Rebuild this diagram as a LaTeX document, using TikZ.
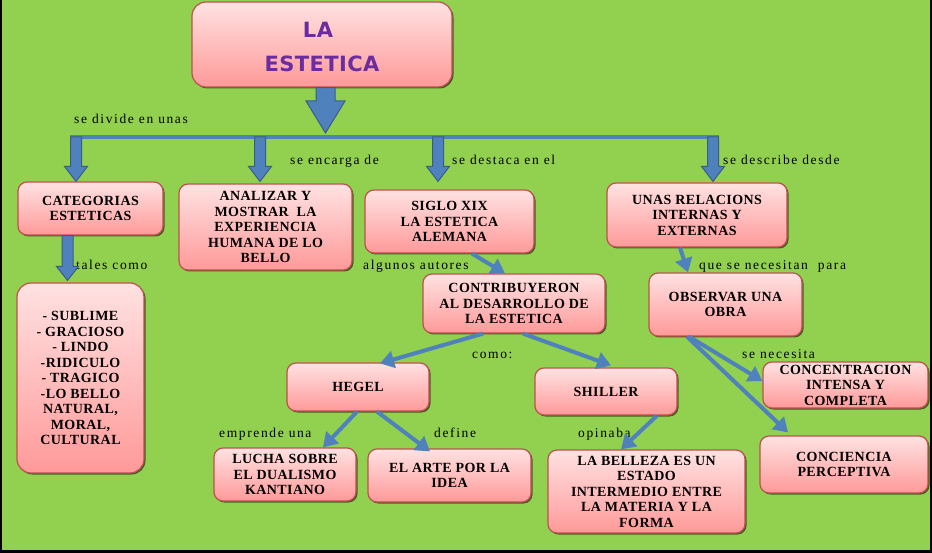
\documentclass[tikz,border=0pt]{standalone}
\usepackage{fontspec}
\setmainfont{Liberation Serif}
\newfontfamily\boxfont[LetterSpace=3]{Liberation Serif}
\newfontfamily\labfont[LetterSpace=12]{Liberation Serif}
\newfontfamily\titlefont[LetterSpace=2]{DejaVu Sans Bold}
\usetikzlibrary{arrows.meta,shadows,calc}
\definecolor{bg}{HTML}{92D050}
\definecolor{bxtop}{HTML}{FFE2E2}
\definecolor{bxbot}{HTML}{FF9999}
\definecolor{bxline}{HTML}{C0504D}
\definecolor{arr}{HTML}{4F81BD}
\definecolor{arrline}{HTML}{385D8A}
\definecolor{ttl}{HTML}{6A2C9E}
\tikzset{
  box/.style={rectangle, rounded corners=9pt, draw=bxline, line width=1.2pt,
    top color=bxtop, bottom color=bxbot, inner sep=0pt, align=center,
    font=\boxfont\bfseries\fontsize{14}{15.5}\selectfont,
    drop shadow={shadow xshift=1.5pt, shadow yshift=-1.5pt, opacity=0.55, fill=black}},
  ttltext/.style={anchor=base, inner sep=0pt, text=ttl,
    font=\titlefont\fontsize{21}{21}\selectfont},
  lab/.style={anchor=base west, inner sep=0pt, text=black,
    font=\labfont\fontsize{13.5}{15}\selectfont},
  conn/.style={draw=arr, line width=4pt, -{Triangle[length=14pt,width=17pt]}},
  barrow/.style={fill=arr, draw=arrline, line width=1pt},
  barline/.style={draw=arr, line width=4pt}
}
\newcommand\blockarr[5]{%
  \filldraw[barrow] let \p1=(#1), \p2=(#2) in
  (\x2-#3,\y1) -- (\x2+#3,\y1) -- (\x2+#3,\y2+#5) -- (\x2+#4,\y2+#5) --
  (\x2,\y2) -- (\x2-#4,\y2+#5) -- (\x2-#3,\y2+#5) -- cycle;}
\begin{document}
\begin{tikzpicture}[x=1pt,y=-1pt]
\useasboundingbox (0,0) rectangle (932,553);
\fill[bg] (0,0) rectangle (932,553);
\fill[black] (0,0) rectangle (2,553);
\fill[black] (929.5,0) rectangle (932,553);
\fill[black] (0,550) rectangle (932,553);

% title
\node[box, rounded corners=14pt, minimum width=260pt, minimum height=85pt] (title) at (322,44.5) {};
\node[ttltext] (tla) at (318,38) {LA};
\node[ttltext] (test) at (322,72) {ESTETICA};

% boxes
\node[box, minimum width=145pt, minimum height=53pt] (cat) at (90.5,208.5) {CATEGORIAS\\ESTETICAS};
\node[box, minimum width=173pt, minimum height=86pt] (ana) at (265.5,227) {ANALIZAR Y\\MOSTRAR~ LA\\EXPERIENCIA\\HUMANA DE LO\\BELLO};
\node[box, minimum width=169pt, minimum height=63pt] (sig) at (449.5,221.5) {SIGLO XIX\\LA ESTETICA\\ALEMANA};
\node[box, minimum width=180pt, minimum height=64pt] (una) at (697,215) {UNAS RELACIONS\\INTERNAS Y\\EXTERNAS};
\node[box, minimum width=127pt, minimum height=190pt, rounded corners=14pt] (list) at (80.5,378) {- SUBLIME\\- GRACIOSO\\- LINDO\\-RIDICULO\\- TRAGICO\\-LO BELLO\\NATURAL,\\MORAL,\\CULTURAL};
\node[box, minimum width=182pt, minimum height=59pt] (con) at (514,303.5) {CONTRIBUYERON\\AL DESARROLLO DE\\LA ESTETICA};
\node[box, minimum width=153pt, minimum height=63pt] (obs) at (725.5,304.5) {OBSERVAR UNA\\OBRA};
\node[box, minimum width=142pt, minimum height=48pt] (heg) at (358,387) {HEGEL};
\node[box, minimum width=142pt, minimum height=47pt] (shi) at (606,391.5) {SHILLER};
\node[box, minimum width=165pt, minimum height=46pt] (cc) at (845.5,385) {CONCENTRACION\\INTENSA Y\\COMPLETA};
\node[box, minimum width=168pt, minimum height=57pt] (cp) at (844,464.5) {CONCIENCIA\\PERCEPTIVA};
\node[box, minimum width=142pt, minimum height=53pt] (luc) at (285,474.5) {LUCHA SOBRE\\EL DUALISMO\\KANTIANO};
\node[box, minimum width=163pt, minimum height=53pt] (art) at (449.5,475.5) {EL ARTE POR LA\\IDEA};
\node[box, minimum width=197pt, minimum height=83pt] (bel) at (646.5,491.5) {LA BELLEZA ES UN\\ESTADO\\INTERMEDIO ENTRE\\LA MATERIA Y LA\\FORMA};

% labels
\node[lab] (l1) at (74,124) {se divide en unas};
\node[lab] (l2) at (290,164.5) {se encarga de};
\node[lab] (l3) at (452,164.5) {se destaca en el};
\node[lab] (l4) at (723,165) {se describe desde};
\node[lab] (l5) at (76,270) {tales como};
\node[lab] (l6) at (363,270) {algunos autores};
\node[lab] (l7) at (699,270) {que se necesitan~ para};
\node[lab] (l8) at (472,359) {como:};
\node[lab] (l9) at (742,359) {se necesita};
\node[lab] (l10) at (219,437) {emprende una};
\node[lab] (l11) at (434,437) {define};
\node[lab] (l12) at (578,437) {opinaba};

% bar and block arrows
\coordinate (barL) at (70,137);
\coordinate (barR) at (719,137);
\coordinate (tA) at (325.5,133);
\draw[barline] (barL) -- (barR);
\blockarr{title.south}{tA}{9.5pt}{19.5pt}{32pt}
\blockarr{barL}{[xshift=-14.5pt]cat.north}{5.5pt}{11.5pt}{15pt}
\blockarr{barL}{[xshift=-5.5pt,yshift=2pt]ana.north}{5.5pt}{11.5pt}{15pt}
\blockarr{barL}{[xshift=-11.5pt,yshift=8pt]sig.north}{5.5pt}{11.5pt}{15pt}
\blockarr{barL}{[xshift=16pt,yshift=1pt]una.north}{5.5pt}{11.5pt}{15pt}
\blockarr{cat.south}{[xshift=-13pt,yshift=2pt]list.north}{5.5pt}{11pt}{14pt}

% connectors
\draw[conn] ([xshift=22.5pt]sig.south) -- ([xshift=-9pt]con.north);
\draw[conn] ([xshift=-31pt]con.south) -- ([xshift=22pt,yshift=-1pt]heg.north);
\draw[conn] ([xshift=9pt]con.south) -- ([xshift=5pt,yshift=2pt]shi.north);
\draw[conn] ([xshift=-17pt]una.south) -- ([xshift=-37.5pt]obs.north);
\draw[conn] ([xshift=-36.5pt]obs.south) -- ([yshift=4pt]cc.west);
\draw[conn] ([xshift=-38.5pt]obs.south) -- ([xshift=-56pt,yshift=3pt]cp.north);
\draw[conn] ([xshift=-1pt]heg.south) -- ([xshift=38pt]luc.north);
\draw[conn] ([xshift=19pt]heg.south) -- ([xshift=-19.5pt,yshift=-3pt]art.north);
\draw[conn] ([xshift=51pt]shi.south) -- ([xshift=-25.5pt]bel.north);
\end{tikzpicture}
\end{document}
